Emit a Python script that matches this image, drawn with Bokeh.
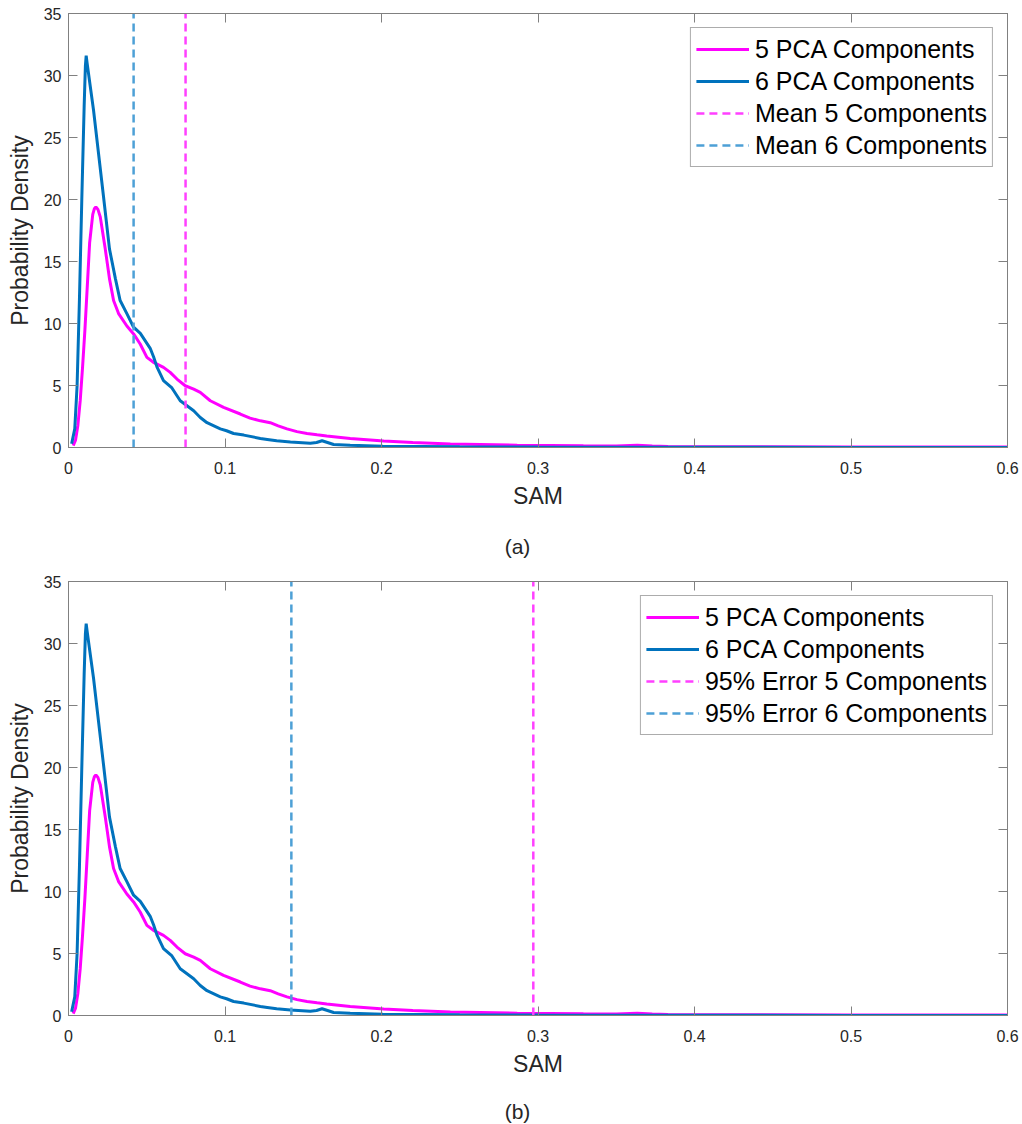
from bokeh.plotting import figure
from bokeh.layouts import column
from bokeh.models import (Range1d, LinearAxis, CustomJSTickFormatter, Label,
                          CustomLabelingPolicy)
from bokeh.embed import file_html
from bokeh.resources import INLINE

# Kernel density of SAM error, 5 PCA components
sam_5 = [0.003, 0.0045, 0.006, 0.0075, 0.009, 0.0105, 0.012, 0.0135, 0.0155, 0.0165,
         0.0175, 0.0188, 0.0203, 0.0235, 0.0262, 0.0288, 0.032, 0.0373, 0.0416, 0.0458,
         0.0501, 0.0543, 0.0607, 0.065, 0.0693, 0.0746, 0.08, 0.0842, 0.0906, 0.0991,
         0.1098, 0.116, 0.1226, 0.1289, 0.134, 0.1396, 0.146, 0.1524, 0.1588, 0.165,
         0.18, 0.2014, 0.22, 0.244, 0.2867, 0.329, 0.35, 0.3634, 0.373, 0.383,
         0.42, 0.5, 0.6]
dens_5 = [0.15, 0.6, 1.8, 3.8, 6.5, 9.5, 13.0, 16.5, 18.8, 19.25,
          19.4, 19.2, 18.6, 16.0, 13.6, 11.85, 10.8, 9.8, 9.16, 8.35,
          7.27, 6.87, 6.46, 6.06, 5.52, 4.98, 4.71, 4.44, 3.77, 3.23,
          2.70, 2.37, 2.15, 2.0, 1.75, 1.5, 1.28, 1.13, 1.02, 0.93,
          0.72, 0.52, 0.40, 0.28, 0.19, 0.14, 0.13, 0.18, 0.12, 0.08,
          0.07, 0.05, 0.04]

# Kernel density of SAM error, 6 PCA components
sam_6 = [0.002, 0.004, 0.0055, 0.007, 0.0085, 0.010, 0.0108, 0.0113, 0.0119, 0.0135,
         0.016, 0.0224, 0.0262, 0.03, 0.033, 0.0373, 0.0416, 0.0459, 0.0522, 0.0544,
         0.0565, 0.0607, 0.0661, 0.0714, 0.08, 0.0842, 0.0885, 0.097, 0.101, 0.1055,
         0.112, 0.1226, 0.127, 0.133, 0.1418, 0.1545, 0.1585, 0.162, 0.1655, 0.1694,
         0.18, 0.201, 0.25, 0.3, 0.4, 0.5, 0.6]
dens_6 = [0.3, 1.5, 5.0, 12.0, 20.0, 27.5, 30.8, 31.6, 31.0, 29.5,
          27.2, 20.2, 16.0, 13.6, 11.85, 10.8, 9.7, 9.2, 8.0, 7.3,
          6.5, 5.4, 4.8, 3.77, 2.96, 2.42, 2.0, 1.5, 1.35, 1.13,
          1.0, 0.73, 0.65, 0.54, 0.45, 0.34, 0.40, 0.54, 0.40, 0.24,
          0.18, 0.11, 0.06, 0.04, 0.02, 0.01, 0.01]

# Reference lines
mean_5, mean_6 = 0.0748, 0.0416
err95_5, err95_6 = 0.297, 0.1424

x_ticks = [0, 0.1, 0.2, 0.3, 0.4, 0.5, 0.6]
y_ticks = [0, 5, 10, 15, 20, 25, 30, 35]
x_lim = (0, 0.6)
y_lim = (0, 35)

FONT = "Liberation Sans"
TXT = "#262626"
AXC = "#808080"
MAGENTA = "#ff00ff"
BLUE = "#0072bd"
MAGENTA_D = "#ff40ff"
BLUE_D = "#4da0d6"
W = 1022

NO_LABELS = CustomLabelingPolicy(code="""
    const all = [...indices]
    for (const i of all) indices.unset(i)
    return indices
""")


def style_axis(ax, ticks, show_labels):
    ax.ticker = ticks
    ax.major_tick_in = 9
    ax.major_tick_out = 0
    ax.minor_tick_line_color = None
    ax.axis_line_color = AXC
    ax.major_tick_line_color = AXC
    ax.major_label_text_font = FONT
    ax.major_label_text_color = TXT
    if show_labels:
        ax.major_label_text_font_size = "16px"
    else:
        # box edge: ticks only
        ax.major_label_policy = NO_LABELS
        ax.major_label_text_font_size = "1px"
        ax.major_label_standoff = 0


def panel(vlines, vlabels, height, border_top, border_bottom):
    p = figure(width=W, height=height, output_backend="svg", toolbar_location=None,
               x_range=Range1d(*x_lim), y_range=Range1d(*y_lim),
               min_border_left=68, min_border_right=15,
               min_border_top=border_top, min_border_bottom=border_bottom)
    p.xgrid.visible = False
    p.ygrid.visible = False
    p.outline_line_color = AXC

    p.line(sam_5, dens_5, line_color=MAGENTA, line_width=3, legend_label="5 PCA Components")
    p.line(sam_6, dens_6, line_color=BLUE, line_width=3, legend_label="6 PCA Components")
    for xv, col, lab in zip(vlines, [MAGENTA_D, BLUE_D], vlabels):
        p.line([xv, xv], list(y_lim), line_color=col, line_width=2.5,
               line_dash="8 5", legend_label=lab)

    p.add_layout(LinearAxis(), "above")
    p.add_layout(LinearAxis(), "right")
    xa = p.below[0]
    ya = p.left[0]
    for ax in p.xaxis:
        style_axis(ax, x_ticks, ax is xa)
        ax.formatter = CustomJSTickFormatter(code="return Number(tick.toFixed(2)).toString();")
    for ax in p.yaxis:
        style_axis(ax, y_ticks, ax is ya)

    xa.axis_label = "SAM"
    xa.major_label_standoff = 14
    xa.axis_label_standoff = 6
    ya.axis_label = "Probability Density"
    ya.major_label_standoff = 7
    ya.axis_label_standoff = 8
    for ax in (xa, ya):
        ax.axis_label_text_font = FONT
        ax.axis_label_text_font_size = "23px"
        ax.axis_label_text_font_style = "normal"
        ax.axis_label_text_color = TXT

    lg = p.legend[0]
    lg.location = "top_right"
    lg.margin = 14
    lg.label_text_font = FONT
    lg.label_text_font_size = "25px"
    lg.label_text_color = "#000000"
    lg.glyph_width = 53
    lg.glyph_height = 32
    lg.label_height = 32
    lg.label_standoff = 6
    lg.spacing = 0
    lg.padding = 5
    lg.border_line_color = "#595959"
    lg.border_line_width = 1
    return p


def caption_strip(text, height, cap_y):
    # narrow strip that carries the sub-figure caption
    c = figure(width=W, height=height, output_backend="svg", toolbar_location=None,
               x_axis_type=None, y_axis_type=None, min_border=0,
               x_range=Range1d(0, 1), y_range=Range1d(0, 1))
    c.outline_line_color = None
    c.xgrid.visible = False
    c.ygrid.visible = False
    c.add_layout(Label(x=449, y=cap_y, x_units="screen", y_units="screen", text=text,
                       text_font=FONT, text_font_size="21px", text_color=TXT,
                       text_align="center", text_baseline="middle"))
    return c


pa = panel([mean_5, mean_6], ["Mean 5 Components", "Mean 6 Components"], 520, 13, 73)
ca = caption_strip("(a)", 42, 16)
pb = panel([err95_5, err95_6], ["95% Error 5 Components", "95% Error 6 Components"], 526, 19, 73)
cb = caption_strip("(b)", 36, 13)

layout = column(pa, ca, pb, cb, spacing=0)
open("out.html", "w").write(file_html(layout, INLINE))
